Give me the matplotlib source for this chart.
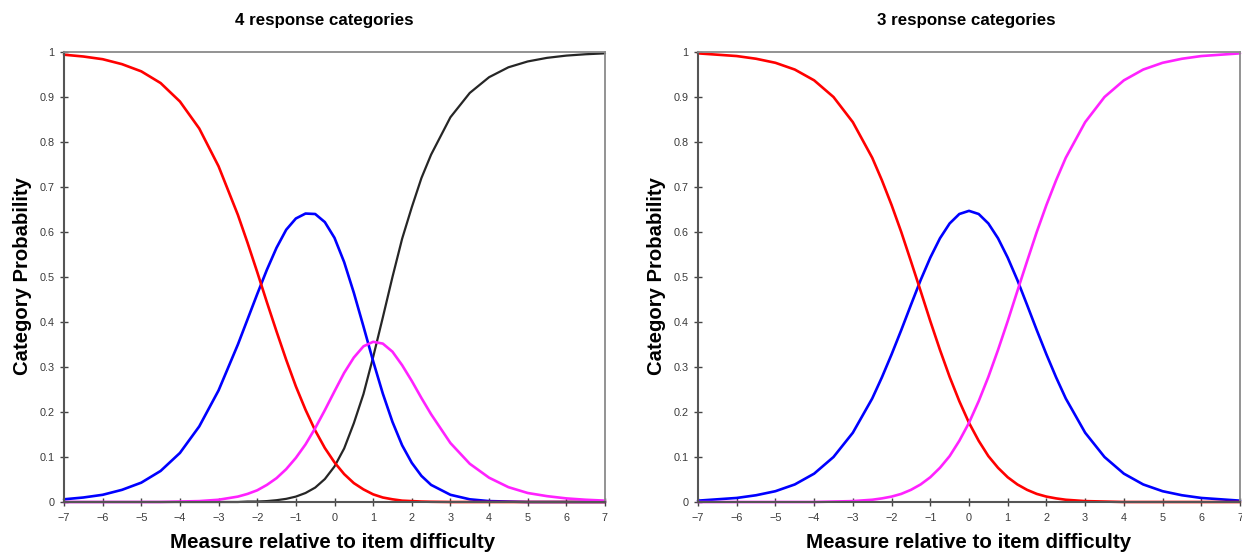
import matplotlib
matplotlib.use("Agg")
import matplotlib.pyplot as plt

plt.rcParams['font.family'] = ['Liberation Sans', 'DejaVu Sans']

# measure values (logits) where the curves were read
x4 = [-7, -6.5, -6, -5.5, -5, -4.5, -4, -3.5, -3, -2.5,
      -2.25, -2, -1.75, -1.5, -1.25, -1, -0.75, -0.5, -0.25, 0,
      0.25, 0.5, 0.75, 1, 1.25, 1.5, 1.75, 2, 2.25,
      2.5, 3, 3.5, 4, 4.5, 5, 5.5, 6, 6.5, 7]

# 4 response categories
cat4_0 = [0.994, 0.990, 0.984, 0.973, 0.957, 0.931, 0.890, 0.830, 0.746, 0.638,
          0.576, 0.511, 0.444, 0.379, 0.316, 0.257, 0.205, 0.159, 0.120, 0.088,
          0.062, 0.042, 0.028, 0.017, 0.010, 0.006, 0.003, 0.002, 0.001,
          0.0005, 0, 0, 0, 0, 0, 0, 0, 0, 0]
cat4_1 = [0.006, 0.010, 0.016, 0.027, 0.043, 0.069, 0.109, 0.168, 0.248, 0.350,
          0.406, 0.462, 0.516, 0.565, 0.605, 0.630, 0.641, 0.640, 0.622, 0.587,
          0.533, 0.465, 0.390, 0.313, 0.241, 0.178, 0.126, 0.087, 0.058,
          0.038, 0.016, 0.006, 0.002, 0.001, 0, 0, 0, 0, 0]
cat4_2 = [0, 0, 0, 0, 0, 0, 0.001, 0.002, 0.005, 0.012,
          0.018, 0.026, 0.038, 0.053, 0.073, 0.098, 0.128, 0.164, 0.204, 0.246,
          0.287, 0.321, 0.346, 0.356, 0.352, 0.334, 0.304, 0.269, 0.231,
          0.195, 0.131, 0.085, 0.054, 0.033, 0.020, 0.013, 0.008, 0.005, 0.003]
cat4_3 = [0, 0, 0, 0, 0, 0, 0, 0, 0, 0,
          0.001, 0.001, 0.002, 0.004, 0.007, 0.012, 0.020, 0.032, 0.051, 0.079,
          0.119, 0.175, 0.240, 0.322, 0.410, 0.500, 0.585, 0.655, 0.720,
          0.772, 0.855, 0.909, 0.944, 0.966, 0.979, 0.987, 0.992, 0.995, 0.997]

# 3 response categories
x3 = x4
cat3_0 = [0.997, 0.994, 0.991, 0.985, 0.976, 0.961, 0.937, 0.900, 0.844, 0.765,
          0.715, 0.660, 0.600, 0.535, 0.469, 0.402, 0.338, 0.278, 0.224, 0.176,
          0.136, 0.102, 0.076, 0.055, 0.039, 0.027, 0.018, 0.012, 0.008,
          0.005, 0.002, 0.001, 0, 0, 0, 0, 0, 0, 0]
cat3_1 = [0.003, 0.006, 0.009, 0.015, 0.024, 0.039, 0.063, 0.100, 0.154, 0.230,
          0.277, 0.328, 0.382, 0.438, 0.493, 0.543, 0.586, 0.619, 0.640, 0.647,
          0.640, 0.619, 0.586, 0.543, 0.493, 0.438, 0.382, 0.328, 0.277,
          0.230, 0.154, 0.100, 0.063, 0.039, 0.024, 0.015, 0.009, 0.006, 0.003]
cat3_2 = cat3_0[::-1]

xticks = [-7, -6, -5, -4, -3, -2, -1, 0, 1, 2, 3, 4, 5, 6, 7]
xticklabels = ['\u22127', '\u22126', '\u22125', '\u22124', '\u22123', '\u22122', '\u22121',
               '0', '1', '2', '3', '4', '5', '6', '7']
yticks = [0, 0.1, 0.2, 0.3, 0.4, 0.5, 0.6, 0.7, 0.8, 0.9, 1]
yticklabels = ['0', '0.1', '0.2', '0.3', '0.4', '0.5', '0.6', '0.7', '0.8', '0.9', '1']

titles = ['4 response categories', '3 response categories']
xlab = 'Measure relative to item difficulty'
ylab = 'Category Probability'

W, H = 1242, 554
fig = plt.figure(figsize=(W / 100, H / 100), dpi=100)
fig.patch.set_facecolor('white')


def px(x0, y0, x1, y1):
    # pixel box (left, top, right, bottom) -> figure fraction rect
    return [x0 / W, 1 - y1 / H, (x1 - x0) / W, (y1 - y0) / H]


ax1 = fig.add_axes(px(64, 52, 605, 502))
ax2 = fig.add_axes(px(698, 52, 1240, 502))

lw = 1.9
kw = dict(clip_on=False, solid_joinstyle='round', solid_capstyle='round')
ax1.plot(x4, cat4_3, color='#262626', lw=1.6, **kw)
ax1.plot(x4, cat4_1, color='#0000ff', lw=lw, **kw)
ax1.plot(x4, cat4_0, color='#ff0000', lw=lw, **kw)
ax1.plot(x4, cat4_2, color='#ff22ff', lw=lw, **kw)

ax2.plot(x3, cat3_1, color='#0000ff', lw=lw, **kw)
ax2.plot(x3, cat3_0, color='#ff0000', lw=lw, **kw)
ax2.plot(x3, cat3_2, color='#ff22ff', lw=lw, **kw)

for ax in (ax1, ax2):
    ax.set_xlim(-7, 7)
    ax.set_ylim(0, 1)
    ax.set_xticks(xticks)
    ax.set_xticklabels(xticklabels)
    ax.set_yticks(yticks)
    ax.set_yticklabels(yticklabels)
    ax.tick_params(direction='inout', length=6, width=1, color='#444444',
                   labelsize=7.8, labelcolor='#3a3a3a')
    ax.tick_params(axis='x', pad=5)
    ax.tick_params(axis='y', pad=4)
    ax.spines['left'].set_color('#555555')
    ax.spines['bottom'].set_color('#555555')
    ax.spines['left'].set_linewidth(1.5)
    ax.spines['bottom'].set_linewidth(1.5)
    ax.spines['top'].set_color('#8a8a8a')
    ax.spines['right'].set_color('#8a8a8a')
    ax.spines['top'].set_linewidth(1.3)
    ax.spines['right'].set_linewidth(1.3)

# titles and axis labels, placed like the original
fig.text(324 / W, 1 - 21 / H, titles[0], ha='center', va='center', fontsize=12.2, fontweight='bold')
fig.text(966 / W, 1 - 21 / H, titles[1], ha='center', va='center', fontsize=12.2, fontweight='bold')
fig.text(333 / W, 1 - 543 / H, xlab, ha='center', va='center', fontsize=14.8, fontweight='bold')
fig.text(969 / W, 1 - 543 / H, xlab, ha='center', va='center', fontsize=14.8, fontweight='bold')
fig.text(23 / W, 1 - 276 / H, ylab, ha='center', va='center', rotation=90, fontsize=14.6, fontweight='bold')
fig.text(656 / W, 1 - 276 / H, ylab, ha='center', va='center', rotation=90, fontsize=14.6, fontweight='bold')

fig.savefig('out.png', dpi=100, facecolor='white')
